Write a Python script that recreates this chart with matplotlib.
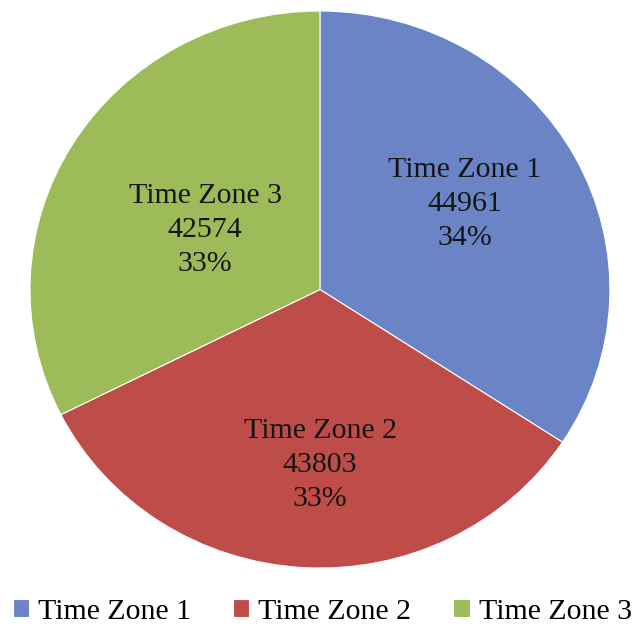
import matplotlib.pyplot as plt
import numpy as np

# traffic counts per time zone
zones = ["Time Zone 1", "Time Zone 2", "Time Zone 3"]
counts = [44961, 43803, 42574]
pct_labels = [34, 33, 33]
colors = ["#6A84C6", "#BE4D4A", "#9DBB59"]
# where each label sits: fraction of radius, nudge past the wedge middle (deg)
label_r = [0.585, 0.63, 0.45]
label_nudge = 3.3

plt.rcParams['font.family'] = ['Liberation Serif', 'DejaVu Serif']

fig = plt.figure(figsize=(6.38, 6.28), dpi=100)
ax = fig.add_axes([0.047, 0.0955, 0.909, 0.887])

wedges, _ = ax.pie(counts, colors=colors, startangle=90, counterclock=False,
                   radius=1, wedgeprops=dict(linewidth=0.8, edgecolor="white"))
ax.set_aspect('auto')
ax.set_xlim(-1, 1)
ax.set_ylim(-1, 1)

for w, name, c, p, r in zip(wedges, zones, counts, pct_labels, label_r):
    mid = np.deg2rad((w.theta1 + w.theta2) / 2 + label_nudge)
    ax.text(r * np.cos(mid), r * np.sin(mid), f"{name}\n{c}\n{p}%",
            ha="center", va="center", fontsize=21.5, linespacing=1.42,
            color="#151515")

fig.legend(wedges, zones, loc="center", bbox_to_anchor=(0.505, 0.026),
           ncol=3, frameon=False, fontsize=21.5, handlelength=0.55,
           handleheight=0.55, handletextpad=0.3, columnspacing=1.4,
           borderaxespad=0)

fig.savefig("out.png", dpi=100)
